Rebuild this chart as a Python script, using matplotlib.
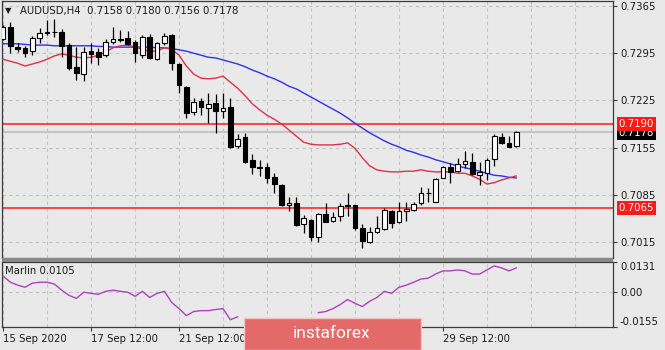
import numpy as np
import matplotlib.pyplot as plt
from matplotlib.patches import Rectangle
import matplotlib.transforms as mtransforms

# AUDUSD H4 candles
opens = [0.7316, 0.7334, 0.7304, 0.7303, 0.7298, 0.7318, 0.7326, 0.7327, 0.7326, 0.7307,
         0.7275, 0.7264, 0.7298, 0.7297, 0.7292, 0.7312, 0.7316, 0.7318, 0.7312, 0.7292,
         0.7319, 0.7286, 0.7310, 0.7322, 0.7279, 0.7245, 0.7208, 0.7224, 0.7214, 0.7221,
         0.7209, 0.7215, 0.7157, 0.7170, 0.7137, 0.7126, 0.7126, 0.7111, 0.7100, 0.7070,
         0.7073, 0.7042, 0.7048, 0.7023, 0.7057, 0.7046, 0.7054, 0.7070, 0.7070, 0.7036,
         0.7015, 0.7030, 0.7034, 0.7061, 0.7045, 0.7061, 0.7063, 0.7073, 0.7088, 0.7074,
         0.7110, 0.7126, 0.7121, 0.7130, 0.7134, 0.7114, 0.7117, 0.7138, 0.7171, 0.7162,
         0.7158]
highs = [0.7337, 0.7341, 0.7310, 0.7306, 0.7321, 0.7332, 0.7344, 0.7346, 0.7331, 0.7310,
         0.7304, 0.7304, 0.7310, 0.7303, 0.7316, 0.7334, 0.7329, 0.7328, 0.7315, 0.7322,
         0.7324, 0.7312, 0.7325, 0.7324, 0.7280, 0.7246, 0.7229, 0.7229, 0.7236, 0.7234,
         0.7236, 0.7229, 0.7175, 0.7177, 0.7145, 0.7137, 0.7132, 0.7117, 0.7101, 0.7082,
         0.7082, 0.7055, 0.7049, 0.7058, 0.7073, 0.7059, 0.7073, 0.7088, 0.7070, 0.7042,
         0.7037, 0.7054, 0.7065, 0.7063, 0.7074, 0.7074, 0.7074, 0.7097, 0.7095, 0.7110,
         0.7127, 0.7132, 0.7139, 0.7150, 0.7147, 0.7134, 0.7140, 0.7175, 0.7177, 0.7172,
         0.7180]
lows = [0.7315, 0.7295, 0.7297, 0.7289, 0.7292, 0.7310, 0.7322, 0.7319, 0.7289, 0.7270,
        0.7255, 0.7254, 0.7280, 0.7277, 0.7289, 0.7309, 0.7312, 0.7307, 0.7282, 0.7288,
        0.7286, 0.7285, 0.7307, 0.7270, 0.7236, 0.7199, 0.7203, 0.7203, 0.7192, 0.7177,
        0.7199, 0.7154, 0.7154, 0.7132, 0.7116, 0.7113, 0.7102, 0.7088, 0.7068, 0.7061,
        0.7039, 0.7028, 0.7017, 0.7015, 0.7044, 0.7045, 0.7046, 0.7054, 0.7033, 0.7006,
        0.7014, 0.7028, 0.7033, 0.7036, 0.7043, 0.7046, 0.7061, 0.7070, 0.7074, 0.7074,
        0.7110, 0.7102, 0.7119, 0.7125, 0.7114, 0.7099, 0.7107, 0.7128, 0.7160, 0.7156,
        0.7156]
closes = [0.7334, 0.7306, 0.7301, 0.7295, 0.7318, 0.7325, 0.7325, 0.7326, 0.7306, 0.7273,
          0.7266, 0.7297, 0.7294, 0.7289, 0.7312, 0.7316, 0.7315, 0.7309, 0.7295, 0.7319,
          0.7288, 0.7310, 0.7321, 0.7280, 0.7248, 0.7206, 0.7223, 0.7215, 0.7220, 0.7209,
          0.7214, 0.7156, 0.7168, 0.7134, 0.7126, 0.7125, 0.7110, 0.7101, 0.7070, 0.7073,
          0.7040, 0.7051, 0.7023, 0.7057, 0.7045, 0.7052, 0.7068, 0.7068, 0.7036, 0.7016,
          0.7030, 0.7036, 0.7063, 0.7043, 0.7061, 0.7064, 0.7071, 0.7088, 0.7087, 0.7108,
          0.7126, 0.7119, 0.7130, 0.7135, 0.7116, 0.7119, 0.7137, 0.7172, 0.7162, 0.7156,
          0.7178]

# moving averages (fast = red, slow = blue)
ma_fast = [0.7286, 0.7283, 0.7280, 0.7276, 0.7279, 0.7282, 0.7286, 0.7291, 0.7294, 0.7292,
           0.7289, 0.7288, 0.7289, 0.7292, 0.7297, 0.7303, 0.7306, 0.7307, 0.7304, 0.7301,
           0.7298, 0.7298, 0.7303, 0.7301, 0.7292, 0.7276, 0.7264, 0.7258, 0.7257, 0.7258,
           0.7261, 0.7252, 0.7243, 0.7232, 0.7220, 0.7211, 0.7203, 0.7197, 0.7190, 0.7181,
           0.7172, 0.7163, 0.7160, 0.7159, 0.7159, 0.7159, 0.7160, 0.7162, 0.7154, 0.7140,
           0.7128, 0.7122, 0.7120, 0.7119, 0.7119, 0.7120, 0.7120, 0.7122, 0.7120, 0.7119,
           0.7119, 0.7119, 0.7117, 0.7117, 0.7113, 0.7108, 0.7101, 0.7103, 0.7107, 0.7110,
           0.7113]
ma_slow = [0.7309, 0.7309, 0.7309, 0.7308, 0.7307, 0.7307, 0.7307, 0.7306, 0.7306, 0.7306,
           0.7306, 0.7306, 0.7306, 0.7305, 0.7305, 0.7304, 0.7304, 0.7304, 0.7304, 0.7304,
           0.7304, 0.7303, 0.7303, 0.7302, 0.7300, 0.7298, 0.7295, 0.7292, 0.7289, 0.7288,
           0.7285, 0.7282, 0.7279, 0.7275, 0.7270, 0.7266, 0.7261, 0.7257, 0.7252, 0.7246,
           0.7242, 0.7236, 0.7230, 0.7224, 0.7218, 0.7212, 0.7206, 0.7199, 0.7191, 0.7184,
           0.7177, 0.7171, 0.7165, 0.7160, 0.7156, 0.7151, 0.7148, 0.7144, 0.7141, 0.7137,
           0.7134, 0.7131, 0.7128, 0.7125, 0.7123, 0.7120, 0.7117, 0.7114, 0.7113, 0.7111,
           0.7110]

# Marlin oscillator (gap where the logo sits over it)
nan = np.nan
marlin = [0.0069, 0.0042, 0.0029, 0.0020, 0.0038, 0.0042, 0.0042, 0.0034, 0.0007, -0.0016,
          -0.0029, -0.0002, -0.0007, -0.0011, 0.0002, 0.0007, 0.0002, -0.0002, -0.0020, 0.0002,
          -0.0025, -0.0007, 0.0002, -0.0047, -0.0074, -0.0105, -0.0087, -0.0083, -0.0083, -0.0078,
          -0.0074, -0.0123, -0.0110, nan, nan, nan, nan, nan, nan, nan,
          nan, nan, nan, -0.0092, -0.0087, -0.0074, -0.0056, -0.0034, -0.0051, -0.0065,
          -0.0042, -0.0025, 0.0002, -0.0007, 0.0020, 0.0029, 0.0042, 0.0056, 0.0060, 0.0078,
          0.0092, 0.0092, 0.0096, 0.0092, 0.0078, 0.0078, 0.0096, 0.0114, 0.0105, 0.0092,
          0.0105]

level_hi = 0.7190
level_lo = 0.7065
price_ticks = [0.7365, 0.7295, 0.7225, 0.7155, 0.7085, 0.7015]
marlin_ticks = [0.0131, 0.0, -0.0155]
marlin_tick_labels = ['0.0131', '0.00', '-0.0155']
date_pos = [0, 12, 24, 60]
date_labels = ['15 Sep 2020', '17 Sep 12:00', '21 Sep 12:00', '29 Sep 12:00']

BG = '#e9e9e9'
FRAME = '#3c3c3c'
GRID = '#c4c4c4'
FS = 7.3

W, H = 665, 350
fig = plt.figure(figsize=(W / 100, H / 100), dpi=100, facecolor=BG)
ax = fig.add_axes([2 / W, 1 - 258 / H, 611 / W, 257 / H], facecolor=BG)
ax2 = fig.add_axes([2 / W, 1 - 327 / H, 611 / W, 65 / H], facecolor=BG)

# separator strip between the two windows
fig.add_artist(Rectangle((2 / W, 1 - 262 / H), 611 / W, 4 / H, transform=fig.transFigure,
                         facecolor='#8a8a8a', edgecolor='none'))

x = np.arange(len(closes))
o = np.array(opens)
c = np.array(closes)
up = c >= o

# --- price window ---
for a in (ax, ax2):
    for g in range(0, 84, 6):
        a.axvline(g, color=GRID, lw=0.8, ls=(0, (3, 3)), zorder=0)
for p in price_ticks:
    ax.axhline(p, color=GRID, lw=0.8, ls=(0, (3, 3)), zorder=0)
ax2.axhline(0, color=GRID, lw=0.8, ls=(0, (3, 3)), zorder=0)

ax.axhline(closes[-1], color='#c6c6c6', lw=1.6, zorder=1)
ax.axhline(level_hi, color='#ff1a1a', lw=1.1, zorder=2)
ax.axhline(level_lo, color='#ff1a1a', lw=1.1, zorder=2)

ax.plot(x, ma_slow, color='#3030f0', lw=1.0, zorder=3)
ax.plot(x, ma_fast, color='#e0304c', lw=1.0, zorder=3)

ax.vlines(x, lows, highs, color='black', lw=0.9, zorder=4)
body_lo = np.minimum(o, c)
body_h = np.abs(c - o)
ax.bar(x[up], body_h[up], bottom=body_lo[up], width=0.62, facecolor='white',
       edgecolor='black', lw=0.8, zorder=5)
ax.bar(x[~up], body_h[~up], bottom=body_lo[~up], width=0.62, facecolor='black',
       edgecolor='black', lw=0.8, zorder=5)

ax.set_xlim(-0.15, 83.2)
ax.set_ylim(0.69913, 0.73724)
ax.set_xticks([])
ax.yaxis.tick_right()
ax.set_yticks(price_ticks)
ax.set_yticklabels([f'{p:.4f}' for p in price_ticks])

# price tags on the right scale
tag = mtransforms.blended_transform_factory(ax.transAxes, ax.transData)
tx = 1 + 5.5 / 611
ax.text(tx, closes[-1] - 0.0001, f'{closes[-1]:.4f}', transform=tag, color='white',
        fontsize=FS, va='center', ha='left', clip_on=False, zorder=6,
        bbox=dict(boxstyle='square,pad=0.18', facecolor='black', edgecolor='none'))
for lv in (level_hi, level_lo):
    ax.text(tx, lv, f'{lv:.4f}', transform=tag, color='white', fontsize=FS,
            va='center', ha='left', clip_on=False, zorder=7,
            bbox=dict(boxstyle='square,pad=0.18', facecolor='#ff1a1a', edgecolor='none'))

# --- Marlin window ---
ax2.plot(x, marlin, color='#b040c0', lw=1.0, zorder=3)
ax2.set_xlim(-0.15, 83.2)
ax2.set_ylim(-0.0155, 0.0131)
ax2.yaxis.tick_right()
ax2.set_yticks(marlin_ticks)
ax2.set_yticklabels(marlin_tick_labels)
ylabs = ax2.get_yticklabels()
ylabs[0].set_va('top')
ylabs[-1].set_va('bottom')
ax2.set_xticks(date_pos)
ax2.set_xticklabels(date_labels)
for lbl in ax2.get_xticklabels():
    lbl.set_ha('left')

for a in (ax, ax2):
    for s in a.spines.values():
        s.set_color(FRAME)
        s.set_linewidth(0.9)
    a.tick_params(axis='both', direction='out', length=3, width=0.8, color=FRAME,
                  labelsize=FS, labelcolor='#1a1a1a', pad=2)

# window captions
fig.text(5 / W, 1 - 11 / H, '\u25bc', fontsize=6, color='#1a1a1a', va='center')
fig.text(20 / W, 1 - 11 / H,
         f'AUDUSD,H4  {opens[-1]:.4f} {highs[-1]:.4f} {lows[-1]:.4f} {closes[-1]:.4f}',
         fontsize=FS, color='#1a1a1a', va='center')
fig.text(5 / W, 1 - 271 / H, f'Marlin {marlin[-1]:.4f}', fontsize=FS,
         color='#1a1a1a', va='center')

# logo badge
fig.add_artist(Rectangle((244 / W, 0), 177 / W, 32 / H, transform=fig.transFigure,
                         facecolor='#e46a6a', edgecolor='#f4c4c4', lw=1.0, zorder=10))
fig.text(332 / W, 1 - 333 / H, 'instaforex', fontsize=12.5, color='white',
         ha='center', va='center', family='Roboto', zorder=11)

fig.savefig('out.png', dpi=100, facecolor=BG)
